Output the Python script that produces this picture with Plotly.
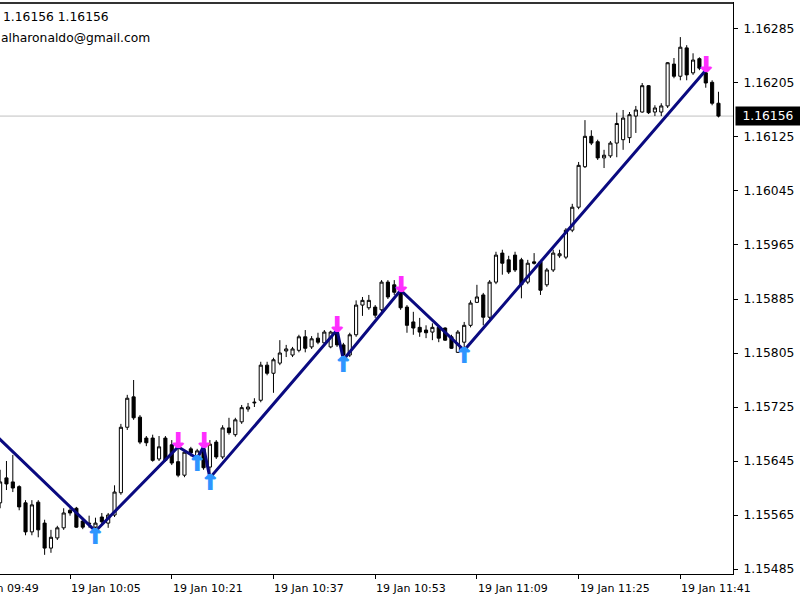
import plotly.graph_objects as go
import pandas as pd

# ---------------- data (EURUSD M1, 19 Jan) ----------------
bar_start = "2021-01-19 09:54"

open_ = [1.15583, 1.15620, 1.15614, 1.15607, 1.15583, 1.15540, 1.15584, 1.15553, 1.15516, 1.15531,
         1.15546, 1.15572, 1.15575, 1.15556, 1.15553, 1.15547, 1.15562, 1.15553, 1.15565, 1.15598,
         1.15695, 1.15740, 1.15710, 1.15679, 1.15679, 1.15648, 1.15679, 1.15669, 1.15644, 1.15624,
         1.15663, 1.15652, 1.15663, 1.15636, 1.15673, 1.15651, 1.15694, 1.15684, 1.15703, 1.15722,
         1.15731, 1.15735, 1.15787, 1.15775, 1.15790, 1.15808, 1.15802, 1.15809, 1.15829, 1.15814,
         1.15827, 1.15820, 1.15814, 1.15835, 1.15817, 1.15802, 1.15832, 1.15876, 1.15872, 1.15873,
         1.15869, 1.15910, 1.15906, 1.15894, 1.15873, 1.15851, 1.15843, 1.15839, 1.15836, 1.15843,
         1.15842, 1.15829, 1.15806, 1.15821, 1.15846, 1.15880, 1.15891, 1.15858, 1.15910, 1.15953,
         1.15943, 1.15950, 1.15943, 1.15910, 1.15940, 1.15940, 1.15906, 1.15928, 1.15949, 1.15947,
         1.15987, 1.16021, 1.16081, 1.16126, 1.16118, 1.16094, 1.16097, 1.16116, 1.16121, 1.16124,
         1.16156, 1.16162, 1.16201, 1.16162, 1.16162, 1.16171, 1.16233, 1.16215, 1.16257, 1.16220,
         1.16241, 1.16220, 1.16206, 1.16175]

high = [1.15632, 1.15645, 1.15654, 1.15609, 1.15587, 1.15587, 1.15587, 1.15558, 1.15543, 1.15549,
        1.15575, 1.15575, 1.15577, 1.15561, 1.15564, 1.15561, 1.15568, 1.15568, 1.15609, 1.15700,
        1.15743, 1.15765, 1.15713, 1.15682, 1.15684, 1.15682, 1.15682, 1.15676, 1.15666, 1.15661,
        1.15666, 1.15663, 1.15666, 1.15676, 1.15676, 1.15698, 1.15709, 1.15709, 1.15728, 1.15731,
        1.15738, 1.15792, 1.15792, 1.15798, 1.15824, 1.15817, 1.15814, 1.15832, 1.15839, 1.15830,
        1.15835, 1.15839, 1.15838, 1.15839, 1.15820, 1.15835, 1.15883, 1.15888, 1.15891, 1.15876,
        1.15913, 1.15913, 1.15913, 1.15898, 1.15876, 1.15866, 1.15857, 1.15846, 1.15849, 1.15846,
        1.15843, 1.15832, 1.15839, 1.15851, 1.15883, 1.15906, 1.15894, 1.15913, 1.15955, 1.15958,
        1.15949, 1.15955, 1.15946, 1.15943, 1.15953, 1.15943, 1.15931, 1.15958, 1.15958, 1.15990,
        1.16026, 1.16088, 1.16150, 1.16135, 1.16121, 1.16106, 1.16119, 1.16161, 1.16165, 1.16162,
        1.16171, 1.16205, 1.16202, 1.16172, 1.16175, 1.16236, 1.16242, 1.16273, 1.16261, 1.16249,
        1.16243, 1.16224, 1.16209, 1.16192]

low = [1.15575, 1.15602, 1.15599, 1.15572, 1.15535, 1.15535, 1.15532, 1.15506, 1.15509, 1.15528,
       1.15543, 1.15564, 1.15546, 1.15544, 1.15546, 1.15541, 1.15549, 1.15546, 1.15562, 1.15595,
       1.15691, 1.15706, 1.15670, 1.15667, 1.15644, 1.15645, 1.15644, 1.15639, 1.15621, 1.15621,
       1.15652, 1.15649, 1.15632, 1.15620, 1.15648, 1.15648, 1.15684, 1.15681, 1.15700, 1.15718,
       1.15725, 1.15732, 1.15772, 1.15746, 1.15787, 1.15799, 1.15799, 1.15806, 1.15806, 1.15811,
       1.15818, 1.15817, 1.15812, 1.15814, 1.15795, 1.15799, 1.15829, 1.15860, 1.15869, 1.15857,
       1.15866, 1.15885, 1.15891, 1.15869, 1.15835, 1.15832, 1.15829, 1.15827, 1.15824, 1.15821,
       1.15823, 1.15811, 1.15805, 1.15809, 1.15843, 1.15879, 1.15846, 1.15855, 1.15907, 1.15921,
       1.15922, 1.15925, 1.15886, 1.15907, 1.15936, 1.15891, 1.15903, 1.15925, 1.15946, 1.15944,
       1.15984, 1.16018, 1.16079, 1.16113, 1.16091, 1.16079, 1.16094, 1.16095, 1.16106, 1.16116,
       1.16131, 1.16161, 1.16159, 1.16156, 1.16156, 1.16168, 1.16212, 1.16209, 1.16209, 1.16217,
       1.16224, 1.16198, 1.16172, 1.16154]

close = [1.15614, 1.15611, 1.15605, 1.15577, 1.15540, 1.15580, 1.15543, 1.15516, 1.15532, 1.15546,
         1.15568, 1.15568, 1.15547, 1.15547, 1.15552, 1.15553, 1.15555, 1.15565, 1.15599, 1.15695,
         1.15738, 1.15709, 1.15673, 1.15672, 1.15646, 1.15666, 1.15646, 1.15642, 1.15624, 1.15658,
         1.15657, 1.15660, 1.15635, 1.15670, 1.15651, 1.15694, 1.15687, 1.15706, 1.15724, 1.15725,
         1.15732, 1.15787, 1.15775, 1.15795, 1.15805, 1.15811, 1.15811, 1.15829, 1.15812, 1.15826,
         1.15821, 1.15836, 1.15836, 1.15817, 1.15802, 1.15832, 1.15876, 1.15883, 1.15883, 1.15861,
         1.15910, 1.15888, 1.15895, 1.15872, 1.15846, 1.15842, 1.15836, 1.15835, 1.15843, 1.15827,
         1.15824, 1.15812, 1.15836, 1.15846, 1.15879, 1.15888, 1.15858, 1.15910, 1.15950, 1.15938,
         1.15925, 1.15928, 1.15906, 1.15938, 1.15938, 1.15898, 1.15928, 1.15953, 1.15952, 1.15987,
         1.16021, 1.16083, 1.16126, 1.16116, 1.16094, 1.16098, 1.16116, 1.16145, 1.16153, 1.16158,
         1.16165, 1.16201, 1.16161, 1.16168, 1.16171, 1.16235, 1.16215, 1.16258, 1.16217, 1.16239,
         1.16227, 1.16205, 1.16175, 1.16156]

# ZigZag vertices
zz_times = ["09:52", "10:09", "10:22", "10:25", "10:26", "10:27", "10:47", "10:48", "10:57", "11:07", "11:45"]
zz_prices = [1.15695, 1.15541, 1.15666, 1.15649, 1.15666, 1.15620, 1.15839, 1.15795, 1.15898, 1.15809, 1.16224]

# Arrow signals
sell_times = ["10:22", "10:26", "10:47", "10:57", "11:45"]
sell_prices = [1.15666, 1.15666, 1.15839, 1.15898, 1.16224]
buy_times = ["10:09", "10:25", "10:27", "10:48", "11:07"]
buy_prices = [1.15541, 1.15649, 1.15620, 1.15795, 1.15809]

# Axis labels
xtick_times = ["09:49", "10:05", "10:21", "10:37", "10:53", "11:09", "11:25", "11:41"]
xtick_labels = ["19 Jan 09:49", "19 Jan 10:05", "19 Jan 10:21", "19 Jan 10:37",
                "19 Jan 10:53", "19 Jan 11:09", "19 Jan 11:25", "19 Jan 11:41"]
ytick_vals = [1.15485, 1.15565, 1.15645, 1.15725, 1.15805, 1.15885,
              1.15965, 1.16045, 1.16125, 1.16205, 1.16285]
bid_price = 1.16156
info_line1 = "1.16156 1.16156"
info_line2 = "alharonaldo@gmail.com"

x_range = ["2021-01-19 09:53:59", "2021-01-19 11:49:17"]
y_range = [1.154776, 1.163235]

# ---------------- figure ----------------
day = "2021-01-19 "
times = pd.date_range(bar_start, periods=len(open_), freq="min")
to_dt = lambda hm: pd.Timestamp(day + hm)

FONT = "DejaVu Sans"
PINK = "#FF2EFF"
BLUE = "#2E95FF"
fig = go.Figure()

fig.add_trace(go.Candlestick(
    x=times, open=open_, high=high, low=low, close=close,
    increasing=dict(fillcolor="white", line=dict(color="black", width=1)),
    decreasing=dict(fillcolor="black", line=dict(color="black", width=1)),
    whiskerwidth=0, hoverinfo="skip", showlegend=False))

fig.add_trace(go.Scatter(
    x=[to_dt(t) for t in zz_times], y=zz_prices, mode="lines",
    line=dict(color="#0A0A80", width=3), hoverinfo="skip", showlegend=False))

# bid line
fig.add_shape(type="line", xref="paper", x0=0, x1=1, yref="y", y0=bid_price, y1=bid_price,
              line=dict(color="#C0C0C0", width=1), layer="below")

# arrows (heavy MT4 look via a same-colour text shadow)
for t, p in zip(sell_times, sell_prices):
    fig.add_annotation(x=to_dt(t), y=p, xref="x", yref="y", text="↓", showarrow=False,
                       font=dict(family=FONT, size=22, color=PINK, weight="bold",
                                 shadow=f"1px 0 0 {PINK}, -1px 0 0 {PINK}"),
                       yanchor="middle", yshift=6)
for t, p in zip(buy_times, buy_prices):
    fig.add_annotation(x=to_dt(t), y=p, xref="x", yref="y", text="↑", showarrow=False,
                       font=dict(family=FONT, size=22, color=BLUE, weight="bold",
                                 shadow=f"1px 0 0 {BLUE}, -1px 0 0 {BLUE}"),
                       yanchor="middle", yshift=-5)

# x tick labels, MT4 style (left aligned at tick)
x0 = pd.Timestamp(x_range[0]); x1 = pd.Timestamp(x_range[1])
for t, lab in zip(xtick_times, xtick_labels):
    frac = (to_dt(t) - x0) / (x1 - x0)
    fig.add_annotation(x=frac, y=0, xref="paper", yref="paper", text=lab, showarrow=False,
                       xanchor="left", yanchor="top", xshift=-1, yshift=-6,
                       font=dict(family=FONT, size=11, color="black"))

# price tag
fig.add_annotation(x=1, y=bid_price, xref="paper", yref="y", text=f"{bid_price:.5f}",
                   showarrow=False, xanchor="left", yanchor="middle", xshift=2,
                   bgcolor="black", font=dict(family=FONT, size=12.3, color="white"),
                   width=60, borderpad=2, align="center")

# info text top-left
fig.add_annotation(x=0, y=1, xref="paper", yref="paper", text=info_line1, showarrow=False,
                   xanchor="left", yanchor="middle", xshift=1, yshift=-14,
                   font=dict(family=FONT, size=12.3, color="black"))
fig.add_annotation(x=0, y=1, xref="paper", yref="paper", text=info_line2, showarrow=False,
                   xanchor="left", yanchor="middle", xshift=-1, yshift=-35,
                   font=dict(family=FONT, size=12.3, color="black"))

# heavier top frame line
fig.add_shape(type="line", xref="paper", yref="paper", x0=0, x1=1, y0=1, y1=1,
              line=dict(color="#333333", width=2))

fig.update_layout(
    width=800, height=600,
    margin=dict(l=0, r=67, t=3, b=26),
    paper_bgcolor="white", plot_bgcolor="white",
    showlegend=False,
    xaxis=dict(type="date", range=x_range, rangeslider=dict(visible=False),
               showgrid=False, zeroline=False, showline=True, linecolor="black", linewidth=1,
               mirror=True, ticks="outside", ticklen=4, tickcolor="black",
               tickvals=[to_dt(t) for t in xtick_times], showticklabels=False),
    yaxis=dict(side="right", range=y_range, showgrid=False, zeroline=False,
               showline=True, linecolor="black", linewidth=1, ticks="outside", ticklen=4,
               tickcolor="black", tickvals=ytick_vals, ticklabelstandoff=3,
               ticktext=[f"{v:.5f}" for v in ytick_vals],
               tickfont=dict(family=FONT, size=12.3, color="black")),
)

fig.write_html("out.html", config={"displayModeBar": False})
